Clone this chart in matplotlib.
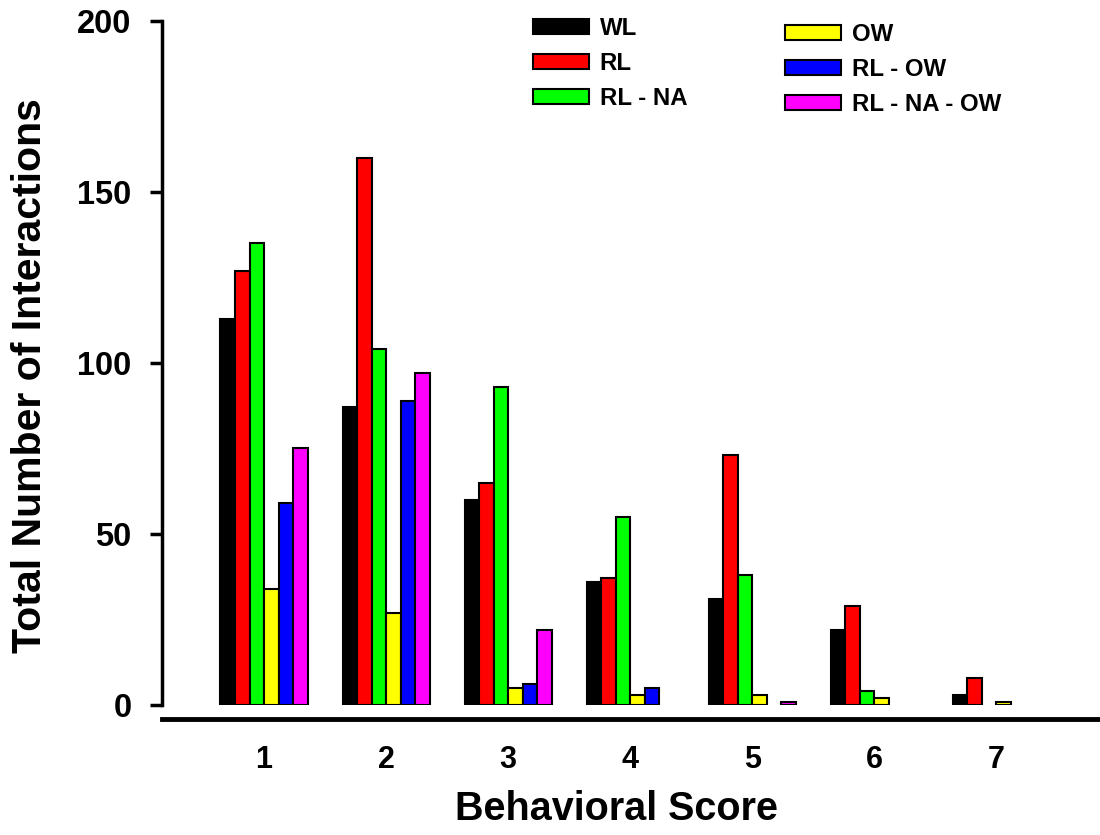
import numpy as np
import matplotlib.pyplot as plt

plt.rcParams['font.family'] = ['Liberation Sans', 'DejaVu Sans']
plt.rcParams['font.weight'] = 'bold'

# Behavioral score categories and total interactions per treatment group
scores = [1, 2, 3, 4, 5, 6, 7]
wl = [113, 87, 60, 36, 31, 22, 3]
rl = [127, 160, 65, 37, 73, 29, 8]
rl_na = [135, 104, 93, 55, 38, 4, 0]
ow = [34, 27, 5, 3, 3, 2, 1]
rl_ow = [59, 89, 6, 5, 0, 0, 0]
rl_na_ow = [75, 97, 22, 0, 1, 0, 0]

series = [wl, rl, rl_na, ow, rl_ow, rl_na_ow]
labels = ['WL', 'RL', 'RL - NA', 'OW', 'RL - OW', 'RL - NA - OW']
colors = ['#000000', '#ff0000', '#00ff00', '#ffff00', '#0000ff', '#ff00ff']

fig = plt.figure(figsize=(11, 8.35), dpi=100)
ax = fig.add_axes([0.1473, 0.1557, 0.8527, 0.8192])

x = np.array(scores, dtype=float)
width = 0.119
bars = []
for i, (vals, lab, col) in enumerate(zip(series, labels, colors)):
    vals = np.array(vals, dtype=float)
    keep = vals > 0  # empty counts get no bar at all
    b = ax.bar((x + (i - 2.5) * width)[keep], vals[keep], width, color=col,
               edgecolor='black', linewidth=1.5, label=lab)
    bars.append(b)

ax.set_xlim(0.164, 7.85)
ax.set_ylim(0, 200)
ax.set_yticks([0, 50, 100, 150, 200])
ax.set_xticks(scores)

for side in ['top', 'right']:
    ax.spines[side].set_visible(False)
ax.spines['left'].set_linewidth(2.5)
ax.spines['bottom'].set_linewidth(3.5)
ax.spines['bottom'].set_position(('outward', 10))

ax.tick_params(axis='y', length=9, width=2.5, labelsize=23.5, pad=13)
ax.tick_params(axis='x', length=0, labelsize=22, pad=19)

ax.set_ylabel('Total Number of Interactions', fontsize=29.5, fontweight='bold')
ax.yaxis.set_label_coords(-0.12, 0.482)
ax.set_xlabel('Behavioral Score', fontsize=28.5, fontweight='bold', labelpad=9)
ax.xaxis.set_label_coords(0.485, -0.125)

leg_kw = dict(frameon=False, handlelength=2.33, handleheight=0.62,
              handletextpad=0.45, labelspacing=0.5, borderpad=0, borderaxespad=0,
              loc='upper left', prop={'weight': 'bold', 'size': 17.3})
leg1 = fig.legend(bars[:3], labels[:3], bbox_to_anchor=(533 / 1100, 1 - 17 / 835), **leg_kw)
leg2 = fig.legend(bars[3:], labels[3:], bbox_to_anchor=(785 / 1100, 1 - 23 / 835), **leg_kw)

fig.savefig('out.png', dpi=100)
